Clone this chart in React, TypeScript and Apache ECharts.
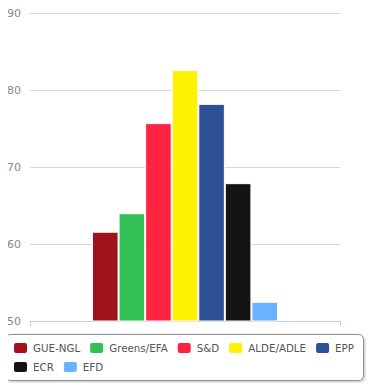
import React, { useEffect, useRef } from "react";
import * as echarts from "echarts";

const categories = [""];
const parties = ["GUE-NGL", "Greens/EFA", "S&D", "ALDE/ADLE", "EPP", "ECR", "EFD"];
const values = [61.6, 64.0, 75.7, 82.6, 78.2, 67.9, 52.5];
const colors = ["#A0131A", "#33C057", "#FF2442", "#FFF200", "#2D5096", "#141414", "#69B2FF"];
const yTicks = { min: 50, max: 90, interval: 10 };

export default function App() {
  const ref = useRef<HTMLDivElement>(null);
  useEffect(() => {
    if (!ref.current) return;
    const chart = echarts.init(ref.current, null, { renderer: "svg" });
    const font = "'DejaVu Sans', Verdana, sans-serif";
    const legendCommon = {
      orient: "horizontal" as const,
      width: 360,
      padding: 0,
      itemWidth: 15,
      itemHeight: 12,
      itemGap: 8,
      icon: "roundRect",
      textStyle: { fontFamily: font, fontSize: 10.3, color: "#555" },
      selectedMode: false,
    };
    chart.setOption({
      animation: false,
      backgroundColor: "#fff",
      grid: { left: 30, right: 34, top: 13, bottom: 70 },
      xAxis: {
        type: "category",
        data: categories,
        axisLine: { lineStyle: { color: "#C0D0E0", width: 1 } },
        axisTick: { show: true, length: 5, lineStyle: { color: "#C0D0E0" } },
        axisLabel: { show: false },
      },
      yAxis: {
        type: "value",
        min: yTicks.min,
        max: yTicks.max,
        interval: yTicks.interval,
        axisLine: { show: false },
        axisTick: { show: false },
        splitLine: { lineStyle: { color: "#D8D8D8", width: 1 } },
        axisLabel: { fontFamily: font, fontSize: 11, color: "#888", margin: 9 },
      },
      legend: [
        { ...legendCommon, left: 12, top: 341, data: parties.slice(0, 5) },
        { ...legendCommon, left: 12, top: 360, data: parties.slice(5) },
      ],
      graphic: [
        {
          type: "rect",
          shape: { x: 5.5, y: 334.5, width: 358, height: 46, r: 5 },
          style: {
            fill: "#fff",
            stroke: "#909090",
            lineWidth: 1,
            shadowBlur: 3,
            shadowColor: "rgba(0,0,0,0.25)",
            shadowOffsetX: 1,
            shadowOffsetY: 1,
          },
          z: -1,
        },
        {
          type: "text",
          x: 306,
          y: 382,
          z: 100,
          style: { text: "Highcharts.com", fontFamily: font, fontSize: 9, fill: "#909090", textVerticalAlign: "top" },
        },
      ],
      series: parties.map((p, i) => ({
        name: p,
        type: "bar",
        data: [values[i]],
        barGap: "0%",
        barCategoryGap: "40%",
        itemStyle: { color: colors[i], borderColor: "#fff", borderWidth: 1 },
      })),
    });
    return () => chart.dispose();
  }, []);
  return <div ref={ref} style={{ width: 374, height: 391, margin: -8 }} />;
}
